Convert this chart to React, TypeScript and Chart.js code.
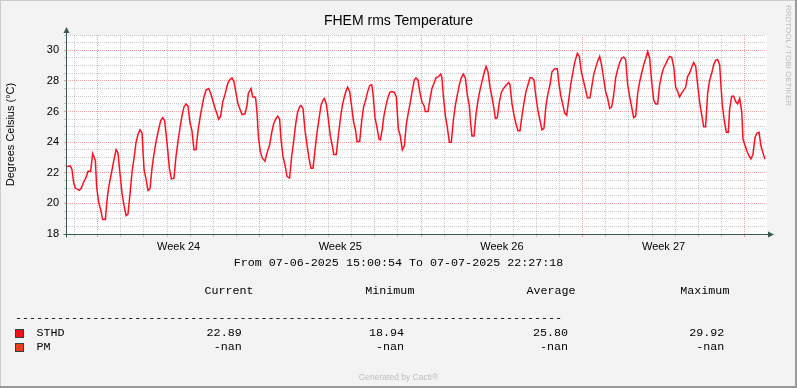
import React, { useEffect, useRef } from 'react';
import { Chart, registerables } from 'chart.js';

Chart.register(...registerables);

// ---------- text ----------
const TITLE = 'FHEM rms Temperature';
const Y_TITLE = 'Degrees Celsius (°C)';
const RANGE_START = '07-06-2025 15:00:54';
const RANGE_END = '07-07-2025 22:27:18';
const WATERMARK = 'RRDTOOL / TOBI OETIKER';
const FOOTER = 'Generated by Cacti®';

// ---------- time axis (hours since range start) ----------
const SPAN_HOURS = 727.44; // 30 d 7 h 26 m 24 s
const FIRST_MIDNIGHT_HOURS = 8.985; // Sun 08-06-2025 00:00
const FIRST_MONDAY_DAY = 1; // Mon 09-06-2025 is midnight #1
const WEEK_LABELS = ['Week 24', 'Week 25', 'Week 26', 'Week 27'];

// ---------- value axis ----------
const Y_MIN = 18;
const Y_MAX = 31;
const Y_STEP = 0.5;
const Y_LABEL_STEP = 2;

// ---------- series: STHD temperature ----------
const hours = [
  0, 4.5, 6.2, 8.0, 9.7, 13.9, 15.9, 18.4, 20.8, 22.9, 25.6, 27.7, 30.5, 31.9, 34.0, 36.0, 38.1, 40.9, 42.6, 44.3,
  47.1, 49.5, 52.0, 54.0, 56.1, 58.2, 60.3, 62.4, 64.4, 66.5, 68.6, 70.7, 72.7, 74.8, 76.9, 79.0, 81.1, 83.1, 85.2, 87.3,
  89.4, 91.5, 93.5, 96.3, 98.4, 100.5, 102.5, 105.0, 107.4, 109.5, 112.2, 114.3, 116.4, 118.5, 120.6, 122.6, 124.7, 126.8, 128.9, 130.9,
  133.0, 135.1, 137.2, 139.3, 141.3, 143.4, 145.5, 148.3, 150.3, 152.4, 154.5, 156.6, 158.7, 160.7, 162.8, 165.6, 167.7, 169.7, 172.5, 174.6,
  176.7, 178.7, 180.8, 182.9,
  186.0, 188.1, 189.5, 192.3, 194.0, 196.4, 197.1, 198.5, 199.9, 201.9, 204.0, 206.8, 208.9, 211.7, 213.7, 215.8, 217.9, 220.0, 222.0, 223.4,
  225.5, 227.6, 229.7, 232.4, 234.5, 236.6, 238.7, 240.7, 242.8, 244.2, 246.3, 248.4, 250.4, 252.5, 254.6, 256.7, 258.8, 260.8, 262.9, 265.0,
  267.1, 268.5, 270.5, 272.6, 274.7, 276.8, 278.2, 280.9, 283.0, 285.1, 287.2, 289.2, 291.3, 292.7, 294.8, 296.9, 298.9, 301.0, 302.4, 305.2,
  307.3, 309.3, 311.4, 313.5, 315.6, 317.7, 319.0, 321.1, 323.2, 325.3, 326.7, 328.7, 330.1, 332.2, 334.3, 336.4, 338.4, 341.2, 343.3, 345.4,
  347.4, 349.5, 351.6, 353.7, 355.8, 357.8, 359.9, 362.0,
  363.7, 365.8, 367.9, 370.0, 372.0, 373.4, 376.2, 378.3, 380.3, 382.4, 384.5, 387.3, 389.4, 390.7, 392.1, 394.2, 396.3, 398.4, 400.4, 402.5,
  404.6, 406.7, 408.8, 410.8, 412.9, 415.0, 417.1, 419.1, 420.5, 421.9, 424.0, 426.1, 428.2, 430.2, 432.3, 434.4, 436.5, 438.5, 440.6, 442.7,
  444.8, 446.2, 448.2, 450.3, 452.4, 454.5, 457.2, 460.0, 461.4, 463.5, 465.6, 467.6, 469.7, 471.8, 473.9, 476.0, 478.0, 480.1, 482.2, 484.3,
  486.3, 488.4, 490.5, 492.6, 494.7, 496.7, 498.8, 500.9, 503.0, 505.0, 507.8, 510.6, 512.0, 514.1, 516.1, 518.2, 520.3, 522.4, 524.5, 526.5,
  528.6, 531.4, 533.5, 535.5, 537.6, 539.7, 541.8, 544.5,
  546.3, 548.4, 550.4, 552.5, 554.6, 556.7, 558.7, 560.8, 562.9, 565.0, 567.1, 569.1, 571.2, 573.3, 575.4, 577.5, 579.5, 581.6, 583.7, 585.8,
  587.8, 589.9, 592.0, 594.1, 596.2, 598.2, 600.3, 602.4, 604.5, 606.5, 608.6, 610.7, 612.8, 614.9, 616.9, 619.0, 621.1, 623.2, 625.3, 627.3,
  629.4, 631.5, 633.6, 635.6, 637.7, 639.8, 641.9, 644.0, 646.0, 648.1, 650.2, 652.3, 654.4, 656.4, 658.5, 660.6, 662.7, 664.7, 666.8, 668.9,
  671.0, 673.1, 675.1, 677.2, 679.3, 680.7, 682.1, 684.1, 686.2, 688.3, 689.7, 691.8, 693.9, 695.9, 698.0, 700.1, 702.2, 703.5, 705.6, 707.7,
  709.8, 711.8, 713.9, 716.0, 718.1, 720.2, 722.2, 724.3, 726.4,
];

const sthd = [
  22.4, 22.45, 22.2, 21.35, 21.0, 20.85, 21.0, 21.4, 21.7, 22.1, 22.1, 23.25, 22.8, 21.05, 20.05, 19.6, 18.94, 18.94, 20.2, 21.05,
  21.95, 22.75, 23.5, 23.3, 21.95, 20.65, 19.85, 19.2, 19.3, 20.6, 22.05, 22.95, 23.95, 24.5, 24.8, 24.6, 22.2, 21.6, 20.85, 20.95,
  22.3, 23.25, 24.0, 24.85, 25.4, 25.6, 25.4, 23.95, 22.3, 21.6, 21.65, 23.05, 24.05, 24.95, 25.75, 26.3, 26.5, 26.35, 25.25, 24.75,
  23.5, 23.5, 24.75, 25.6, 26.3, 26.95, 27.4, 27.5, 27.2, 26.75, 26.3, 25.9, 25.5, 25.7, 26.6, 27.2, 27.75, 28.05, 28.2, 27.95,
  27.2, 26.5, 26.15, 25.8,
  25.85, 26.4, 27.2, 27.5, 26.95, 26.95, 26.85, 25.95, 24.4, 23.4, 22.95, 22.75, 23.3, 23.85, 24.6, 25.2, 25.5, 25.7, 25.5, 24.2,
  23.05, 22.5, 21.75, 21.65, 23.05, 24.05, 25.2, 25.95, 26.3, 26.4, 26.2, 24.75, 23.85, 22.95, 22.3, 22.3, 23.5, 24.6, 25.5, 26.4,
  26.75, 26.85, 26.5, 25.5, 24.4, 23.75, 23.2, 23.2, 24.4, 25.5, 26.4, 26.95, 27.4, 27.6, 27.3, 26.3, 25.3, 24.75, 24.05, 24.05,
  25.4, 26.3, 26.75, 27.3, 27.7, 27.75, 27.2, 25.6, 24.95, 24.2, 24.15, 24.85, 25.6, 26.3, 26.85, 27.25, 27.3, 27.25, 26.95, 24.85,
  24.4, 23.5, 23.75, 25.2, 25.95, 26.6, 27.4, 28.05,
  28.2, 28.05, 27.2, 26.6, 26.4, 26.0, 26.0, 26.85, 27.5, 27.85, 28.2, 28.3, 28.45, 28.2, 27.05, 25.75, 24.95, 24.0, 24.0, 25.4,
  26.4, 27.1, 27.75, 28.2, 28.45, 28.2, 27.05, 26.4, 25.25, 24.4, 24.4, 25.85, 26.75, 27.4, 27.95, 28.5, 28.95, 28.6, 27.6, 26.95,
  26.15, 25.55, 25.6, 26.6, 27.25, 27.5, 27.7, 27.9, 27.75, 26.5, 25.75, 25.2, 24.75, 24.75, 25.75, 26.6, 27.3, 27.75, 28.2, 28.2,
  28.05, 26.95, 26.05, 25.4, 24.8, 24.9, 26.4, 27.2, 27.75, 28.6, 28.8, 28.8, 27.95, 27.05, 26.5, 25.9, 25.75, 26.75, 27.75, 28.5,
  29.2, 29.8, 29.6, 28.6, 28.05, 27.5, 26.9, 26.9,
  27.6, 28.4, 28.85, 29.3, 29.6, 29.0, 28.15, 27.3, 26.85, 26.2, 26.3, 27.05, 28.2, 28.75, 29.2, 29.5, 29.55, 29.4, 27.75, 26.95,
  26.3, 25.6, 25.7, 27.2, 27.95, 28.5, 29.05, 29.45, 29.92, 29.5, 27.95, 26.75, 26.5, 26.5, 27.75, 28.4, 28.85, 29.1, 29.4, 29.6,
  29.55, 28.95, 27.6, 27.3, 26.95, 27.2, 27.4, 27.6, 28.3, 28.5, 28.9, 29.2, 28.95, 27.75, 26.6, 25.8, 25.0, 25.0, 27.2, 28.05,
  28.5, 29.05, 29.35, 29.4, 29.05, 27.6, 26.4, 25.4, 24.65, 24.65, 26.2, 27.0, 27.0, 26.65, 26.5, 26.85, 26.0, 24.2, 23.8, 23.4,
  23.1, 22.9, 23.2, 24.3, 24.6, 24.65, 23.75, 23.3, 22.89,
];

// ---------- legend table ----------
const statHeaders = ['Current', 'Minimum', 'Average', 'Maximum'];
const legendNames = ['STHD', 'PM'];
const legendColors = ['#F2101C', '#E8401C'];
const sthdStats = ['22.89', '18.94', '25.80', '29.92'];
const pmStats = ['-nan', '-nan', '-nan', '-nan'];
const legendStats = [sthdStats, pmStats];

// ---------- style ----------
const SANS = "'Liberation Sans', Arial, sans-serif";
const MONO = "'Liberation Mono', 'Courier New', monospace";
const BACK = '#F3F3F3';
const AXIS = '#3A5A51';
const GRID = 'rgba(140,140,140,0.45)';
const MGRID = 'rgba(225,60,60,0.45)';
const W = 797;
const H = 388;

function xTickKind(value: number): { kind: 'major' | 'minor' | 'noon'; label: string } {
  const k = Math.round((value - FIRST_MIDNIGHT_HOURS) / 12);
  if (k % 2 !== 0) {
    const day = (k - 1) / 2 - FIRST_MONDAY_DAY;
    let label = '';
    if (day >= 0 && day % 7 === 3) {
      const w = (day - 3) / 7;
      label = WEEK_LABELS[w] || '';
    }
    return { kind: 'noon', label };
  }
  const day = k / 2 - FIRST_MONDAY_DAY;
  return { kind: ((day % 7) + 7) % 7 === 0 ? 'major' : 'minor', label: '' };
}

const framePlugin = {
  id: 'rrdFrame',
  beforeDraw(chart: any) {
    const { ctx, chartArea: a } = chart;
    ctx.save();
    ctx.fillStyle = BACK;
    ctx.fillRect(0, 0, W, H);
    ctx.fillStyle = '#FFFFFF';
    ctx.fillRect(a.left, a.top, a.right - a.left + 1, a.bottom - a.top);
    // 3D frame
    ctx.fillStyle = '#CBCBCB';
    ctx.fillRect(0, 0, W, 1);
    ctx.fillRect(0, 0, 1, H);
    ctx.fillStyle = '#999999';
    ctx.fillRect(0, H - 2, W, 2);
    ctx.fillRect(W - 2, 0, 2, H);
    ctx.restore();
  },
  afterDraw(chart: any) {
    const { ctx, chartArea: a } = chart;
    ctx.save();
    ctx.strokeStyle = AXIS;
    ctx.fillStyle = AXIS;
    ctx.lineWidth = 1;
    const x0 = Math.round(a.left) + 0.5;
    const y0 = Math.round(a.bottom) + 0.5;
    ctx.beginPath();
    ctx.moveTo(x0, y0 + 3);
    ctx.lineTo(x0, a.top - 3);
    ctx.stroke();
    ctx.beginPath();
    ctx.moveTo(x0 - 3, a.top - 2);
    ctx.lineTo(x0 + 3, a.top - 2);
    ctx.lineTo(x0, a.top - 8);
    ctx.closePath();
    ctx.fill();
    ctx.beginPath();
    ctx.moveTo(x0 - 3, y0);
    ctx.lineTo(a.right + 3, y0);
    ctx.stroke();
    ctx.beginPath();
    ctx.moveTo(a.right + 2, y0 - 3);
    ctx.lineTo(a.right + 2, y0 + 3);
    ctx.lineTo(a.right + 8, y0);
    ctx.closePath();
    ctx.fill();
    ctx.restore();
  },
};

function RrdChart() {
  const ref = useRef<HTMLCanvasElement | null>(null);
  useEffect(() => {
    if (!ref.current) return;
    const chart = new Chart(ref.current, {
      type: 'line',
      data: {
        datasets: [
          {
            label: legendNames[0],
            data: hours.map((h, i) => ({ x: h, y: sthd[i] })),
            borderColor: '#FF1020',
            borderWidth: 1.5,
            pointRadius: 0,
            tension: 0,
          },
          {
            label: legendNames[1],
            data: [],
            borderColor: legendColors[1],
            borderWidth: 1.5,
            pointRadius: 0,
          },
        ],
      },
      options: {
        responsive: false,
        animation: false,
        devicePixelRatio: 1,
        layout: { padding: { left: 0, right: 31, top: 35, bottom: 134 } },
        plugins: {
          legend: { display: false },
          tooltip: { enabled: false },
          title: { display: false },
        },
        scales: {
          x: {
            type: 'linear',
            min: 0,
            max: SPAN_HOURS,
            afterFit: (s: any) => {
              s.height = 20;
            },
            afterBuildTicks: (s: any) => {
              const t: { value: number }[] = [];
              for (let k = 0; FIRST_MIDNIGHT_HOURS + k * 12 <= SPAN_HOURS; k++) {
                t.push({ value: FIRST_MIDNIGHT_HOURS + k * 12 });
              }
              s.ticks = t;
            },
            ticks: {
              autoSkip: false,
              maxRotation: 0,
              minRotation: 0,
              padding: 3,
              color: '#000',
              font: { family: SANS, size: 11 },
              callback: (v: any) => xTickKind(Number(v)).label,
            },
            grid: {
              lineWidth: 1,
              tickLength: 3,
              color: (c: any) => {
                const kd = xTickKind(c.tick ? c.tick.value : 0).kind;
                return kd === 'noon' ? 'rgba(0,0,0,0)' : kd === 'major' ? MGRID : GRID;
              },
              tickColor: (c: any) => {
                const kd = xTickKind(c.tick ? c.tick.value : 0).kind;
                return kd === 'noon' ? 'rgba(0,0,0,0)' : kd === 'major' ? MGRID : GRID;
              },
            },
            border: { display: false, dash: [1, 1] },
          },
          y: {
            type: 'linear',
            min: Y_MIN,
            max: Y_MAX,
            afterFit: (s: any) => {
              s.width = 66;
            },
            afterBuildTicks: (s: any) => {
              const t: { value: number }[] = [];
              for (let k = 0; Y_MIN + k * Y_STEP <= Y_MAX + 1e-9; k++) t.push({ value: Y_MIN + k * Y_STEP });
              s.ticks = t;
            },
            title: {
              display: true,
              text: Y_TITLE,
              color: '#000',
              font: { family: SANS, size: 11 },
              padding: { top: 4, bottom: 0 },
            },
            ticks: {
              autoSkip: false,
              padding: 5,
              color: '#000',
              font: { family: SANS, size: 11 },
              callback: (v: any) => (Math.abs(Number(v) % Y_LABEL_STEP) < 1e-9 ? String(v) : ''),
            },
            grid: {
              lineWidth: 1,
              tickLength: 2,
              color: (c: any) => (c.tick && Math.abs(c.tick.value % Y_LABEL_STEP) < 1e-9 ? MGRID : GRID),
              tickColor: (c: any) => (c.tick && Math.abs(c.tick.value % Y_LABEL_STEP) < 1e-9 ? MGRID : GRID),
            },
            border: { display: false, dash: [1, 1] },
          },
        },
      } as any,
      plugins: [framePlugin],
    });
    return () => chart.destroy();
  }, []);
  return <canvas ref={ref} width={W} height={H} style={{ position: 'absolute', left: 0, top: 0, width: W, height: H }} />;
}

const abs = (o: React.CSSProperties): React.CSSProperties => ({ position: 'absolute', whiteSpace: 'pre', margin: 0, ...o });

export default function App() {
  const mono: React.CSSProperties = { fontFamily: MONO, fontSize: '11.7px', lineHeight: '14px', color: '#000' };
  const headerLeft = [204.5, 365.3, 526.5, 680.3];
  const valueRight = [241.7, 404, 568, 724.3];
  const rowTop = [326.2, 339.8];
  const squareTop = [329, 343];
  return (
    <div style={{ position: 'fixed', left: 0, top: 0, width: W, height: H, background: BACK, overflow: 'hidden' }}>
      <RrdChart />
      <div style={abs({ left: 0, top: 12, width: W, textAlign: 'center', fontFamily: SANS, fontSize: '14px', lineHeight: '17px', color: '#000' })}>
        {TITLE}
      </div>
      <div
        style={abs({
          left: 784,
          top: 5,
          writingMode: 'vertical-rl',
          fontFamily: SANS,
          fontSize: '8px',
          lineHeight: '9px',
          color: '#BDBDBD',
        })}
      >
        {WATERMARK}
      </div>
      <div style={abs({ ...mono, left: 0, top: 255.7, width: W, textAlign: 'center' })}>
        {`From ${RANGE_START} To ${RANGE_END}`}
      </div>
      {statHeaders.map((s, i) => (
        <div key={s} style={abs({ ...mono, left: headerLeft[i], top: 284 })}>
          {s}
        </div>
      ))}
      <div style={abs({ ...mono, left: 15, top: 311.2 })}>{'-'.repeat(78)}</div>
      {legendNames.map((name, r) => (
        <React.Fragment key={name}>
          <div
            style={abs({
              left: 15,
              top: squareTop[r],
              width: 9,
              height: 9,
              boxSizing: 'border-box',
              border: '1px solid #2C4540',
              background: legendColors[r],
            })}
          />
          <div style={abs({ ...mono, left: 36.5, top: rowTop[r] })}>{name}</div>
          {legendStats[r].map((v, i) => (
            <div key={i} style={abs({ ...mono, left: 0, width: valueRight[i], textAlign: 'right', top: rowTop[r] })}>
              {v}
            </div>
          ))}
        </React.Fragment>
      ))}
      <div
        style={abs({ left: 0, top: 372, width: W, textAlign: 'center', fontFamily: SANS, fontSize: '8.5px', lineHeight: '10px', color: '#BDBDBD' })}
      >
        {FOOTER}
      </div>
    </div>
  );
}
